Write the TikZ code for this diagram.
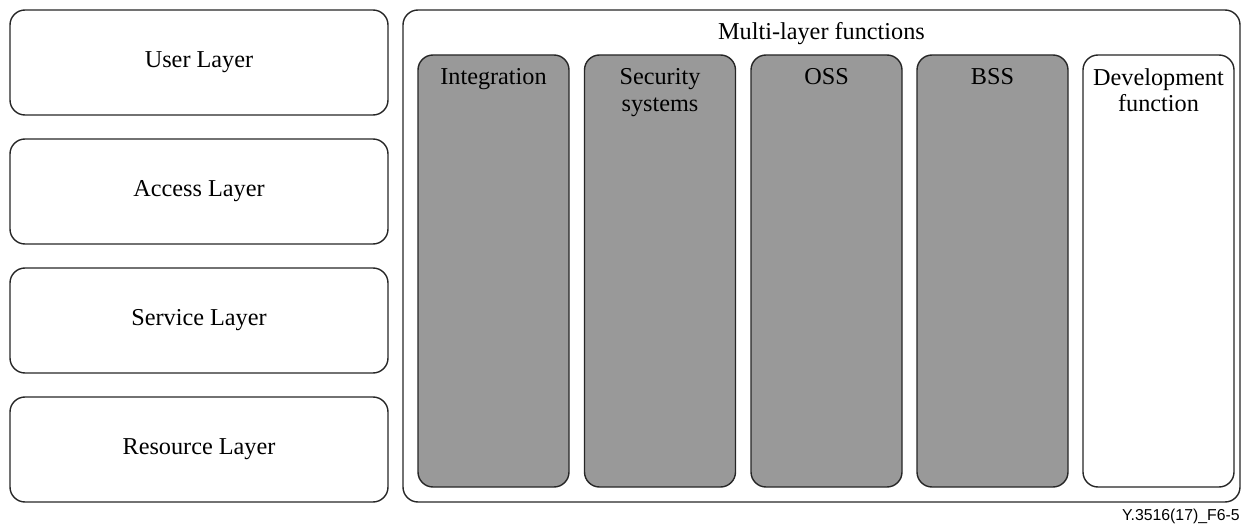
\documentclass[tikz,border=0pt]{standalone}
\usepackage{fontspec}
\setmainfont{Liberation Serif}
\setsansfont{Liberation Sans}
\usetikzlibrary{positioning}

\definecolor{colgray}{HTML}{999999}

\begin{document}
\begin{tikzpicture}
            \tikzset{line/.style={line width=0.8pt, draw=black!85, rounded corners=0.3cm}};
            \tikzset{layer/.style={line, minimum width=7.56cm, minimum height=2.1cm, font=\fontsize{13.8}{15.5}\selectfont}};
            \tikzset{func/.style={line, fill=colgray, minimum width=3.02cm, minimum height=8.64cm}};
            \tikzset{functext/.style={anchor=north, align=center, inner sep=0pt, font=\fontsize{13.8}{15}\selectfont}};
            
            \useasboundingbox (0,0) rectangle (25.02,-10.48);
            
            % layers on the left
            \node[layer] (user) at (3.98,-1.25) {User Layer};
            \node[layer] (access) at (3.98,-3.83) {Access Layer};
            \node[layer] (service) at (3.98,-6.41) {Service Layer};
            \node[layer] (resource) at (3.98,-8.99) {Resource Layer};
            
            % multi-layer functions
            \node[line, minimum width=16.74cm, minimum height=9.84cm] (multi) at (16.43,-5.12) {};
            \node[functext] (multitext) at ([yshift=-0.26cm]multi.north) {Multi-layer functions};
            
            \node[func] (integ) at (9.87,-5.42) {};
            \node[functext] (integtext) at ([yshift=-0.28cm]integ.north) {Integration};
            
            \node[func] (secur) at (13.2,-5.42) {};
            \node[functext] (securtext) at ([yshift=-0.28cm]secur.north) {Security\\systems};
            
            \node[func] (oss) at (16.53,-5.42) {};
            \node[functext] (osstext) at ([yshift=-0.28cm]oss.north) {OSS};
            
            \node[func] (bss) at (19.85,-5.42) {};
            \node[functext] (bsstext) at ([yshift=-0.28cm]bss.north) {BSS};
            
            \node[func, fill=white] (devel) at (23.17,-5.42) {};
            \node[functext] (develtext) at ([yshift=-0.28cm]devel.north) {Development\\function};
            
            \node[anchor=north east, inner sep=0pt, font=\sffamily\fontsize{9}{10}\selectfont] (figid) at (24.8,-10.18) {Y.3516(17)\_F6-5};
        \end{tikzpicture}
\end{document}
